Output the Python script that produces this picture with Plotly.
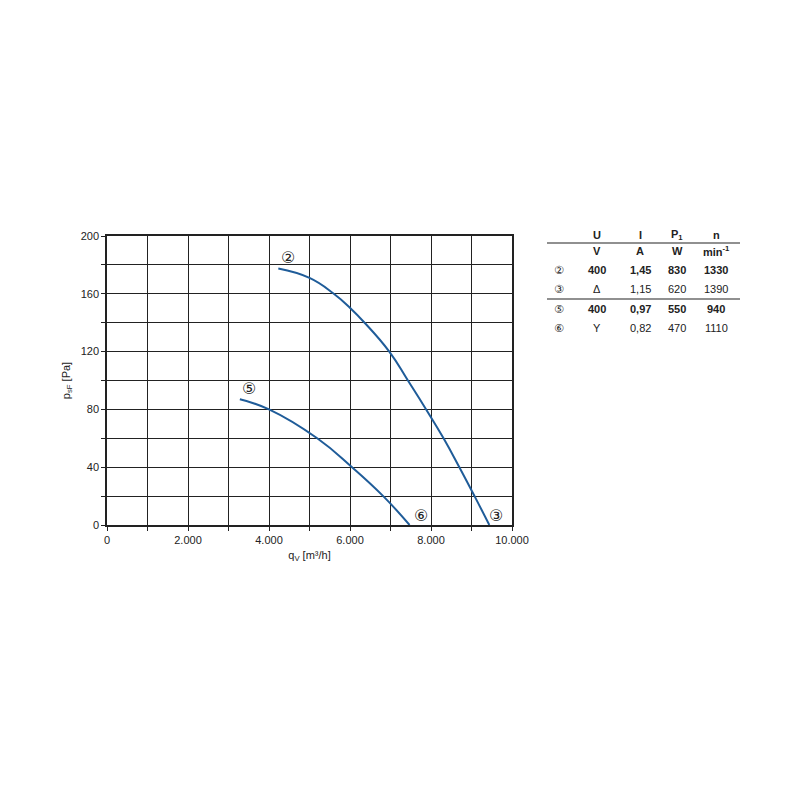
import plotly.graph_objects as go

# Curve data (qV in m³/h, psF in Pa)
q_23 = [4230, 5000, 5600, 6010, 6360, 6970, 7430, 7880, 8310, 8700, 9075, 9440]
p_23 = [177.5, 171, 160, 150, 140, 120, 100, 80, 60, 40, 20, 0]
q_56 = [3280, 4000, 5190, 6050, 6820, 7470]
p_56 = [87, 80, 60, 40, 20, 0]

x_ticks = [0, 2000, 4000, 6000, 8000, 10000]
x_ticktext = ["0", "2.000", "4.000", "6.000", "8.000", "10.000"]
y_ticks = [0, 40, 80, 120, 160, 200]

# Table data
tbl_header = ["U", "I", "P<sub>1</sub>", "n"]
tbl_units = ["V", "A", "W", "min<sup>-1</sup>"]
tbl_marks = ["②", "③", "⑤", "⑥"]
tbl_rows = [["400", "1,45", "830", "1330"],
            ["Δ", "1,15", "620", "1390"],
            ["400", "0,97", "550", "940"],
            ["Y", "0,82", "470", "1110"]]
tbl_bold = [True, False, True, False]

BLUE = "#1f5c99"
INK = "#222222"
FONT = "Liberation Sans, Arial, sans-serif"

fig = go.Figure()
for qs, ps in [(q_23, p_23), (q_56, p_56)]:
    fig.add_trace(go.Scatter(x=qs, y=ps, mode="lines",
                             line=dict(color=BLUE, width=2, shape="spline", smoothing=1.3),
                             showlegend=False, hoverinfo="skip"))

OFF = 8  # page body margin
W = H = 800
L, R, T, B = 107 - OFF, W - 512 + OFF, 236 - OFF, H - 525 + OFF
pw = W - L - R
ph = H - T - B

def px(xp):
    return (xp - OFF - L) / pw

def py(yp):
    return 1 - (yp - OFF - T) / ph

# Curve labels
labels = [("②", q_23[0], p_23[0], 10, 11), ("⑤", q_56[0], p_56[0], 9, 11),
          ("⑥", q_56[-1], p_56[-1], 11, 10), ("③", q_23[-1], p_23[-1], 7, 10)]
for t, xv, yv, dx, dy in labels:
    fig.add_annotation(x=xv, y=yv, text=t, showarrow=False, xshift=dx, yshift=dy,
                       xanchor="center", yanchor="middle",
                       font=dict(family="DejaVu Sans", size=16, color=INK))

def cell(xp, yp, text, fam=FONT, size=11):
    fig.add_annotation(xref="paper", yref="paper", x=px(xp), y=py(yp), text=text,
                       showarrow=False, xanchor="center", yanchor="middle",
                       font=dict(family=fam, size=size, color=INK))

# Table
col_x = [597, 640, 677, 716]
for i, h in enumerate(tbl_header):
    cell(col_x[i], 235, "<b>%s</b>" % h)
    cell(col_x[i], 251, "<b>%s</b>" % tbl_units[i])
row_y = [270, 289, 309, 328]
for r, (mk, vals, bold) in enumerate(zip(tbl_marks, tbl_rows, tbl_bold)):
    cell(559, row_y[r], mk, fam="DejaVu Sans", size=11)
    for i, v in enumerate(vals):
        cell(col_x[i], row_y[r], "<b>%s</b>" % v if bold else v)
for yl in [243, 299]:
    fig.add_shape(type="line", xref="paper", yref="paper", x0=px(547), x1=px(740), y0=py(yl), y1=py(yl),
                  line=dict(color=INK, width=1.2))

axis_common = dict(showline=True, linecolor=INK, linewidth=1.5, mirror=True, automargin=False,
                   gridcolor=INK, gridwidth=1.2, ticks="outside", ticklen=4, tickcolor=INK,
                   tickfont=dict(family=FONT, size=11, color=INK), zeroline=False)
minor_common = dict(showgrid=True, gridcolor=INK, gridwidth=1.2, ticks="outside", ticklen=4, tickcolor=INK)

fig.update_layout(
    width=W, height=H, paper_bgcolor="white", plot_bgcolor="white",
    margin=dict(l=L, r=R, t=T, b=B),
    xaxis=dict(range=[0, 10000], tickvals=x_ticks, ticktext=x_ticktext,
               minor=dict(dtick=1000, **minor_common),
               title=dict(text="q<sub>V</sub> [m³/h]", font=dict(family=FONT, size=11, color=INK), standoff=6),
               **axis_common),
    yaxis=dict(range=[0, 200], tickvals=y_ticks,
               minor=dict(dtick=20, **minor_common),
               title=dict(text="p<sub>sF</sub> [Pa]", font=dict(family=FONT, size=11, color=INK), standoff=8),
               **axis_common),
)

fig.write_html("out.html")
